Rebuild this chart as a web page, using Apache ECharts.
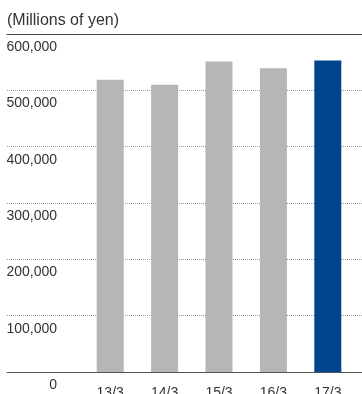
<!DOCTYPE html>
<html>
<head>
<meta charset="utf-8">
<script src="https://cdn.jsdelivr.net/npm/echarts@6/dist/echarts.min.js"></script>
<style>
  html, body { margin: 0; padding: 0; background: #fff; }
  #chart { width: 362px; height: 394px; }
</style>
</head>
<body>
<div id="chart"></div>
<script>
// fiscal years (March year-end) and sales, millions of yen
var years = ['13/3', '14/3', '15/3', '16/3', '17/3'];
var sales = [519000, 510000, 551000, 539000, 553000];
var unitLabel = '(Millions of yen)';
var yMin = 0, yMax = 600000, yStep = 100000;

var gray = '#b5b6b5';
var blue = '#00448e';
var font = 'Liberation Sans, Arial, sans-serif';

var chart = echarts.init(document.getElementById('chart'), null, { renderer: 'canvas' });

var barData = sales.map(function (v, i) {
    return {
        value: v,
        itemStyle: { color: i == sales.length - 1 ? blue : gray }
    };
});

chart.setOption({
    animation: false,
    title: {
        text: unitLabel,
        left: 2,
        top: 8,
        textStyle: { fontFamily: font, fontSize: 16, fontWeight: 'normal', color: '#333' }
    },
    grid: [
        // background grid: full-width rules and y labels
        { left: 7, right: 0, top: 34, bottom: 22, outerBoundsMode: 'none' },
        // bars
        { left: 83, right: 7, top: 34, bottom: 22, outerBoundsMode: 'none' }
    ],
    xAxis: [
        {
            gridIndex: 0, type: 'category', data: [''], position: 'bottom',
            axisLine: { lineStyle: { color: '#555', width: 1 } },
            axisTick: { show: false }, axisLabel: { show: false }
        },
        {
            gridIndex: 0, type: 'category', data: [''], position: 'top',
            axisLine: { lineStyle: { color: '#444', width: 1 } },
            axisTick: { show: false }, axisLabel: { show: false }
        },
        {
            gridIndex: 1, type: 'category', data: years,
            axisLine: { show: false }, axisTick: { show: false },
            axisLabel: {
                margin: 14,
                fontFamily: font, fontSize: 14, color: '#333'
            }
        }
    ],
    yAxis: [
        {
            gridIndex: 0, type: 'value', min: yMin, max: yMax, interval: yStep,
            axisLine: { show: false }, axisTick: { show: false },
            axisLabel: {
                inside: true, margin: 50, align: 'right',
                verticalAlign: 'top', padding: [6, 0, 0, 0],
                fontFamily: font, fontSize: 14, color: '#333',
                formatter: function (v) { return v.toLocaleString('en-US'); }
            },
            splitLine: { lineStyle: { color: '#999', type: [1, 1], width: 1 } }
        },
        {
            gridIndex: 1, type: 'value', min: yMin, max: yMax, interval: yStep,
            show: false
        }
    ],
    series: [{
        type: 'bar',
        xAxisIndex: 2,
        yAxisIndex: 1,
        barWidth: 27,
        data: barData
    }]
});
</script>
</body>
</html>
